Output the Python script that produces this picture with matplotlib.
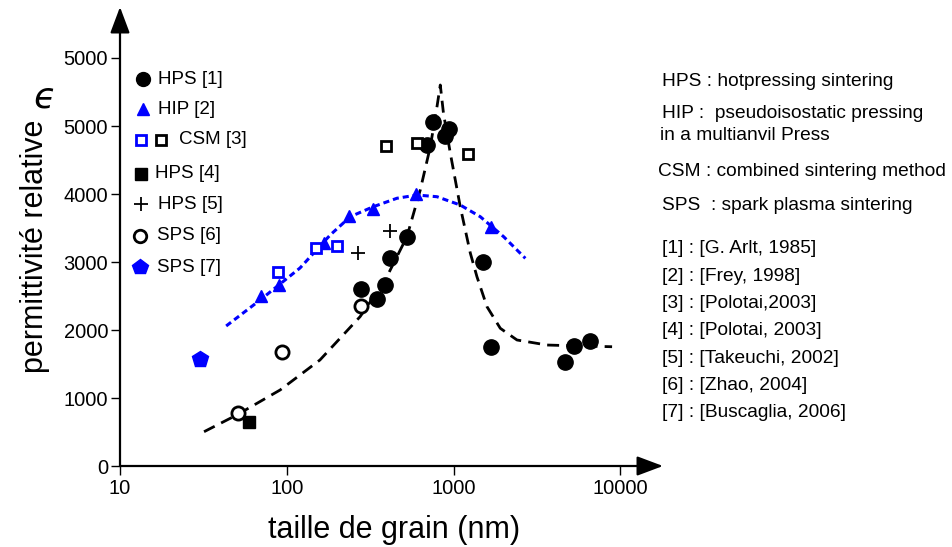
import matplotlib
matplotlib.use("Agg")
import matplotlib.pyplot as plt
from matplotlib.lines import Line2D

plt.rcParams['font.family'] = ['Liberation Sans', 'DejaVu Sans']

# ---------------- data ----------------
hps1_x = [280, 348, 389, 417, 527, 695, 755, 891, 942, 1507, 1667, 4677, 5237, 6607]
hps1_y = [2600, 2460, 2660, 3060, 3370, 4720, 5060, 4850, 4960, 3000, 1750, 1530, 1770, 1840]

hip2_x = [70, 90, 168, 237, 330, 597, 1683]
hip2_y = [2500, 2660, 3280, 3680, 3780, 4000, 3520]

csm3_blue_x = [89, 150, 200]
csm3_blue_y = [2850, 3210, 3240]
csm3_black_x = [394, 606, 1224]
csm3_black_y = [4710, 4750, 4590]

hps4_x = [59]
hps4_y = [640]

hps5_x = [267, 417]
hps5_y = [3130, 3460]

sps6_x = [51, 94, 279]
sps6_y = [780, 1670, 2360]

sps7_x = [30]
sps7_y = [1570]

# guide-to-the-eye curves
fit_black_x = [31.9, 50.1, 91.2, 158, 275, 389, 525, 631, 725, 795, 832,
               869, 955, 1096, 1259, 1380, 1585, 1905, 2399, 3631, 5754, 8913]
fit_black_y = [504, 750, 1118, 1559, 2196, 2735, 3372, 4059, 4696, 5284, 5603,
               5191, 4603, 3813, 3132, 2784, 2343, 2025, 1853, 1779, 1765, 1754]

fit_blue_x = [43.3, 69.2, 120, 182, 240, 330, 457, 603, 795, 1096, 1445, 1995, 2692]
fit_blue_y = [2059, 2441, 2912, 3397, 3666, 3813, 3937, 3985, 3960, 3838, 3666, 3372, 3054]

x_ticks = [10, 100, 1000, 10000]
x_tick_labels = ["10", "100", "1000", "10000"]
y_ticks = [0, 1000, 2000, 3000, 4000, 5000, 6000]
y_tick_labels = ["0", "1000", "2000", "3000", "4000", "5000", "5000"]

legend_labels = ["HPS [1]", "HIP [2]", "CSM [3]", "HPS [4]", "HPS [5]", "SPS [6]", "SPS [7]"]

note_lines = ["HPS : hotpressing sintering",
              "HIP :  pseudoisostatic pressing",
              "in a multianvil Press",
              "CSM : combined sintering method",
              "SPS  : spark plasma sintering"]
ref_lines = ["[1] : [G. Arlt, 1985]",
             "[2] : [Frey, 1998]",
             "[3] : [Polotai,2003]",
             "[4] : [Polotai, 2003]",
             "[5] : [Takeuchi, 2002]",
             "[6] : [Zhao, 2004]",
             "[7] : [Buscaglia, 2006]"]

xlabel = "taille de grain (nm)"
ylabel = "permittivité relative"

# ---------------- figure ----------------
W, H = 952, 547
fig = plt.figure(figsize=(W / 100, H / 100), dpi=100)
ax = fig.add_axes([120 / W, (H - 466) / H, (663 - 120) / W, 459 / H])
ax.set_xscale('log')
ax.set_xlim(10, 18000)
ax.set_ylim(0, 6750)
for s in ax.spines.values():
    s.set_visible(False)

BLUE = '#0000ff'

# curves
ax.plot(fit_black_x, fit_black_y, color='black', lw=2.0, dashes=(4.3, 2.6), zorder=2)
ax.plot(fit_blue_x, fit_blue_y, color=BLUE, lw=2.2, dashes=(2.0, 1.3), zorder=2)

# markers
ms_style = dict(linestyle='none', zorder=3)
ax.plot(hps1_x, hps1_y, marker='o', ms=11, color='black', **ms_style)
ax.plot(hip2_x, hip2_y, marker='^', ms=9, color=BLUE, **ms_style)
ax.plot(csm3_blue_x, csm3_blue_y, marker='s', ms=7.5, mfc='white', mec=BLUE, mew=2, **ms_style)
ax.plot(csm3_black_x, csm3_black_y, marker='s', ms=7.5, mfc='white', mec='black', mew=2, **ms_style)
ax.plot(hps4_x, hps4_y, marker='s', ms=8.5, color='black', **ms_style)
ax.plot(hps5_x, hps5_y, marker='+', ms=10, color='black', mew=1.3, **ms_style)
ax.plot(sps6_x, sps6_y, marker='o', ms=9.5, mfc='white', mec='black', mew=2, **ms_style)
ax.plot(sps7_x, sps7_y, marker='p', ms=12, color=BLUE, **ms_style)

# ticks
ax.set_xticks(x_ticks)
ax.set_xticklabels(x_tick_labels)
ax.xaxis.set_minor_locator(matplotlib.ticker.NullLocator())
ax.set_yticks(y_ticks)
ax.set_yticklabels(y_tick_labels)
ax.tick_params(axis='both', direction='out', length=6.5, width=1.0, labelsize=14.5)
ax.tick_params(axis='x', pad=3)
ax.tick_params(axis='y', pad=2)

# axes with arrows
arrow_kw = dict(arrowstyle='-|>,head_length=0.8,head_width=0.3', lw=1.6, color='black',
                shrinkA=0, shrinkB=0, mutation_scale=20)
ax.annotate('', xy=(1, 0), xytext=(0, 0), xycoords='axes fraction', arrowprops=arrow_kw,
            annotation_clip=False)
ax.annotate('', xy=(0, 1), xytext=(0, 0), xycoords='axes fraction', arrowprops=arrow_kw,
            annotation_clip=False)

# axis labels
fig.text(394 / W, 1 - 538 / H, xlabel, ha='center', va='baseline', fontsize=22)
fig.text(35 / W, 1 - 246 / H, ylabel, ha='center', va='center', rotation=90, fontsize=22)
fig.text(45 / W, 1 - 97 / H, "\u03f5", ha='center', va='center', fontsize=26,
         style='italic', family=['DejaVu Sans'])

# manual legend
def fx(px):
    return px / W

def fy(py):
    return 1 - py / H

leg_rows = [79, 109, 140, 174, 204, 236, 267]
leg_text_x = [158, 158, 179, 155, 158, 157, 157]
leg_markers = [
    [dict(x=143, marker='o', ms=10, color='black')],
    [dict(x=143, marker='^', ms=8.5, color=BLUE)],
    [dict(x=141, marker='s', ms=7, mfc='white', mec=BLUE, mew=2),
     dict(x=161, marker='s', ms=7, mfc='white', mec='black', mew=2)],
    [dict(x=141, marker='s', ms=8, color='black')],
    [dict(x=141, marker='+', ms=10, color='black', mew=1.3)],
    [dict(x=140, marker='o', ms=9, mfc='white', mec='black', mew=2)],
    [dict(x=140, marker='p', ms=11.5, color=BLUE)],
]
for lab, py, tx, mks in zip(legend_labels, leg_rows, leg_text_x, leg_markers):
    for m in mks:
        m = dict(m)
        px = m.pop('x')
        fig.add_artist(Line2D([fx(px)], [fy(py)], transform=fig.transFigure,
                              linestyle='none', **m))
    fig.text(fx(tx), fy(py), lab, ha='left', va='center', fontsize=13.5)

# notes on the right
note_x = [662, 662, 660, 658, 662]
note_y = [81, 113, 136, 172, 205]
for s, px, py in zip(note_lines, note_x, note_y):
    fig.text(fx(px), fy(py), s, ha='left', va='center', fontsize=13.8)

for i, s in enumerate(ref_lines):
    fig.text(fx(662), fy(249 + 27.3 * i), s, ha='left', va='center', fontsize=13.8)

fig.savefig('out.png', dpi=100)
